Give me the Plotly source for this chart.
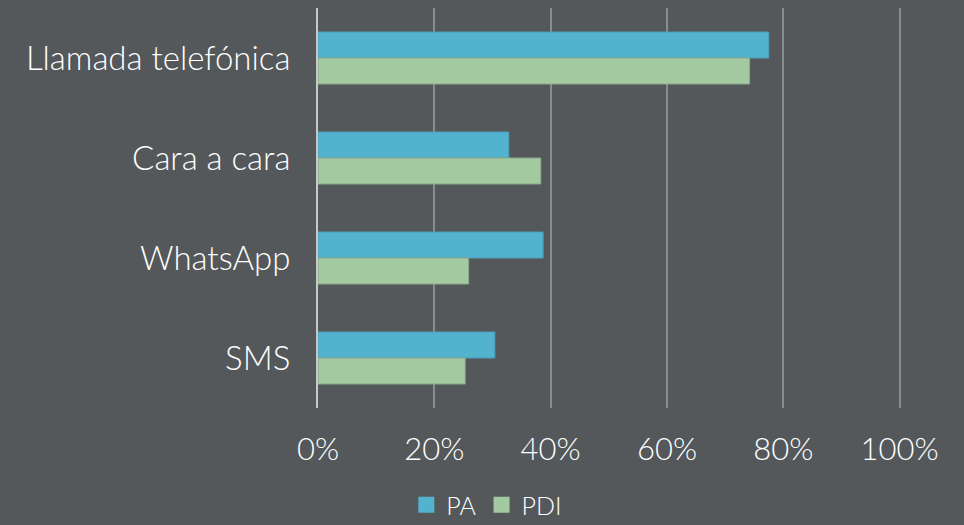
import plotly.graph_objects as go

categories = ["Llamada telefónica", "Cara a cara", "WhatsApp", "SMS"]
pa = [77.5, 32.8, 38.7, 30.4]
pdi = [74.2, 38.3, 25.9, 25.3]
tick_vals = [0, 20, 40, 60, 80, 100]
tick_text = ["0%", "20%", "40%", "60%", "80%", "100%"]

bg = "#54585a"
c_pa = "#53b2cd"
c_pdi = "#a3c9a0"
fig = go.Figure()
fig.add_trace(go.Bar(y=categories, x=pa, name="PA", orientation="h", showlegend=False,
                     marker=dict(color=c_pa, line=dict(color="#4a9fb8", width=1))))
fig.add_trace(go.Bar(y=categories, x=pdi, name="PDI", orientation="h", showlegend=False,
                     marker=dict(color=c_pdi, line=dict(color="#8aa98a", width=1))))
# legend entries with larger square symbols
for nm, col in (("PA", c_pa), ("PDI", c_pdi)):
    fig.add_trace(go.Scatter(x=[None], y=[None], mode="markers", name=nm,
                             marker=dict(symbol="square", size=18, color=col)))

fig.update_layout(
    width=964, height=525,
    paper_bgcolor=bg, plot_bgcolor=bg,
    margin=dict(l=318, r=62, t=8, b=117, autoexpand=False),
    barmode="group", bargap=0.48, bargroupgap=0,
    font=dict(family="Lato, Open Sans, sans-serif", color="white", weight=300),
    legend=dict(orientation="h", x=0.505, xanchor="center", xref="container",
                y=0.038, yanchor="middle", yref="container",
                font=dict(size=25, color="white", weight=300), itemwidth=30,
                traceorder="normal"),
    showlegend=True,
)
fig.update_xaxes(range=[0, 100.4], tickvals=tick_vals, ticktext=tick_text,
                 showgrid=True, gridcolor="#8a8c8e", gridwidth=2,
                 zeroline=False, showline=False,
                 tickfont=dict(size=31, color="white", weight=300), ticklabelstandoff=20)
fig.update_yaxes(autorange="reversed", showgrid=False,
                 showline=True, linecolor="#c8c8c8", linewidth=2,
                 tickfont=dict(size=33, color="white", weight=300), ticklabelstandoff=19)

fig.write_html("out.html", config={"displayModeBar": False},
               post_script="document.body.style.margin='0';")
